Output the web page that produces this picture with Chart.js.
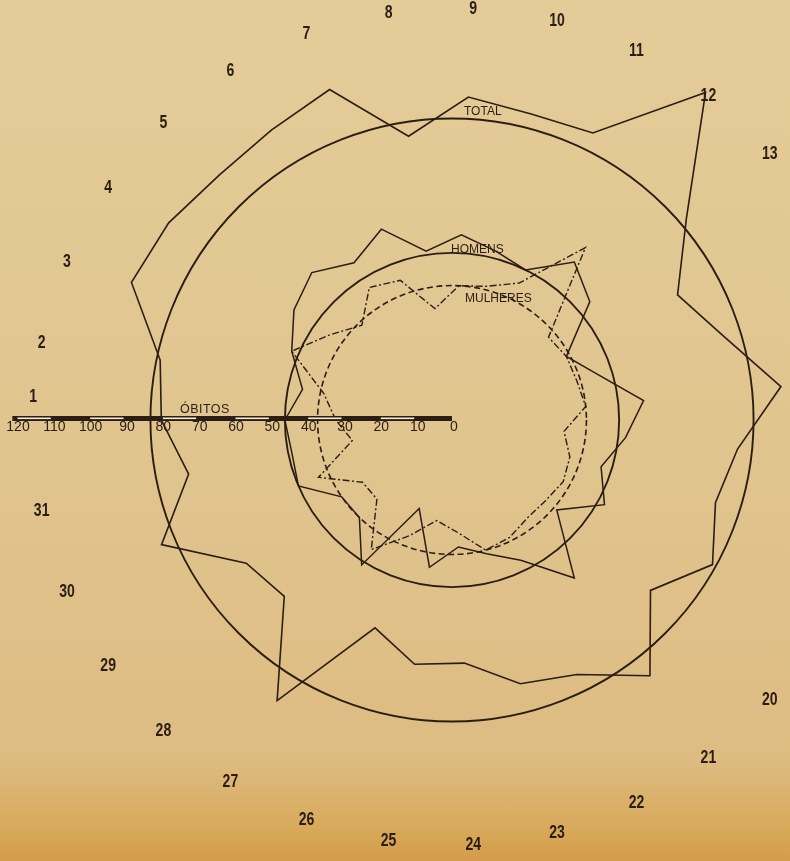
<!DOCTYPE html>
<html>
<head>
<meta charset="utf-8">
<script src="https://cdn.jsdelivr.net/npm/chart.js@4.4.1/dist/chart.umd.min.js"></script>
<style>
  html, body { margin: 0; padding: 0; width: 790px; height: 861px; overflow: hidden; }
  body {
    position: relative;
    background: linear-gradient(180deg, #e4cc98 0%, #e0c48e 55%, #ddbc82 88%, #d8aa5c 96%, #d39c4a 100%);
  }
  #wrap { position: absolute; left: -100px; top: -100px; width: 1104px; height: 1104px; }
</style>
</head>
<body>
<div id="wrap"><canvas id="obitosChart"></canvas></div>
<script>
const days = ['1','2','3','4','5','6','7','8','9','10','11','12','13','14','15','16',
              '17','18','19','20','21','22','23','24','25','26','27','28','29','30','31'];
const total    = [80, 82, 96, 95, 93, 94, 97, 79, 89, 87, 88, 114, 85, 71, 78, 91,
                  79, 76, 82, 72, 89, 78, 75, 67, 68, 61, 91, 67, 69, 87, 74];
const homens   = [46, 42, 48, 53, 56, 51, 56, 47, 51, 48, 46, 55, 50, 36, 42, 53,
                  48, 43, 48, 38, 55, 43, 38, 35, 41, 26, 47, 37, 37, 46, 45];
const mulheres = [32, 36, 48, 41, 36, 43, 41, 31, 37, 38, 42, 60, 35, 36, 36, 37,
                  31, 34, 35, 34, 34, 36, 37, 31, 28, 34, 42, 30, 30, 40, 28];
const axisTicks = [0, 10, 20, 30, 40, 50, 60, 70, 80, 90, 100, 110, 120];
const seriesNames = ['TOTAL', 'HOMENS', 'MULHERES'];
const seriesMeans = [83, 46, 37];

const ink = '#2b1d14';

// mean circles, axis bar, day labels and names
const overlay = {
  id: 'overlay',
  beforeDatasetsDraw(chart) {
    const s = chart.scales.r;
    const ctx = chart.ctx;
    ctx.save();
    ctx.strokeStyle = ink;
    seriesMeans.forEach((m, i) => {
      ctx.beginPath();
      ctx.lineWidth = i === 2 ? 1.6 : 1.9;
      ctx.setLineDash(i === 2 ? [6, 3.5] : []);
      ctx.arc(s.xCenter, s.yCenter, s.getDistanceFromCenterForValue(m), 0, Math.PI * 2);
      ctx.stroke();
    });
    ctx.restore();
  },
  afterDraw(chart) {
    const s = chart.scales.r;
    const ctx = chart.ctx;
    const cx = s.xCenter, cy = s.yCenter;
    const d = v => s.getDistanceFromCenterForValue(v);
    ctx.save();
    ctx.fillStyle = ink;

    // ÓBITOS axis bar
    ctx.fillRect(cx - d(121), cy - 4, d(121), 5);
    ctx.fillStyle = '#f4ecd8';
    for (let v = 10; v <= 110; v += 20) {
      ctx.fillRect(cx - d(v + 10) + 1.5, cy - 2.5, d(10) - 3, 1.6);
    }
    ctx.fillStyle = ink;
    ctx.font = '14px "Liberation Sans", Arial, sans-serif';
    ctx.textAlign = 'center';
    ctx.textBaseline = 'alphabetic';
    axisTicks.forEach(v => ctx.fillText(String(v), cx - d(v) + 2, cy + 11));
    ctx.font = '12.5px "Liberation Sans", Arial, sans-serif';
    ctx.letterSpacing = '0.5px';
    ctx.fillText('ÓBITOS', cx - d(68), cy - 7);
    ctx.letterSpacing = '0px';

    // series names
    ctx.font = '12px "Liberation Sans", Arial, sans-serif';
    ctx.textAlign = 'left';
    ctx.fillText(seriesNames[0], cx + 12, cy - d(seriesMeans[0]) - 3);
    ctx.fillText(seriesNames[1], cx - 1, cy - d(seriesMeans[1]) + 0.5);
    ctx.fillText(seriesNames[2], cx + 13, cy - d(seriesMeans[2]) + 16);

    // day labels
    ctx.font = 'bold 18px "Liberation Sans", Arial, sans-serif';
    ctx.textAlign = 'center';
    ctx.textBaseline = 'middle';
    days.forEach((lab, i) => {
      const p = s.getPointPosition(i, d(115.3));
      ctx.save();
      ctx.translate(p.x, p.y + (i === 0 ? -23 : 7));
      ctx.scale(0.78, 1);
      ctx.fillText(lab, 0, 0);
      ctx.restore();
    });
    ctx.restore();
  }
};

new Chart(document.getElementById('obitosChart'), {
  type: 'radar',
  data: {
    labels: days,
    datasets: [
      { label: seriesNames[0], data: total, borderColor: ink, borderWidth: 1.6 },
      { label: seriesNames[1], data: homens, borderColor: ink, borderWidth: 1.5 },
      { label: seriesNames[2], data: mulheres, borderColor: ink, borderWidth: 1.4,
        borderDash: [7, 2.5, 2, 2.5] }
    ]
  },
  options: {
    responsive: true,
    maintainAspectRatio: false,
    animation: false,
    layout: { padding: { left: 116, top: 84, right: 116, bottom: 148 } },
    elements: {
      line: { fill: false, tension: 0 },
      point: { radius: 0, hoverRadius: 0 }
    },
    scales: {
      r: {
        min: 0,
        max: 120,
        startAngle: -90,
        ticks: { display: false },
        grid: { display: false },
        angleLines: { display: false },
        pointLabels: { display: false }
      }
    },
    plugins: {
      legend: { display: false },
      tooltip: { enabled: false }
    }
  },
  plugins: [overlay]
});
</script>
</body>
</html>
